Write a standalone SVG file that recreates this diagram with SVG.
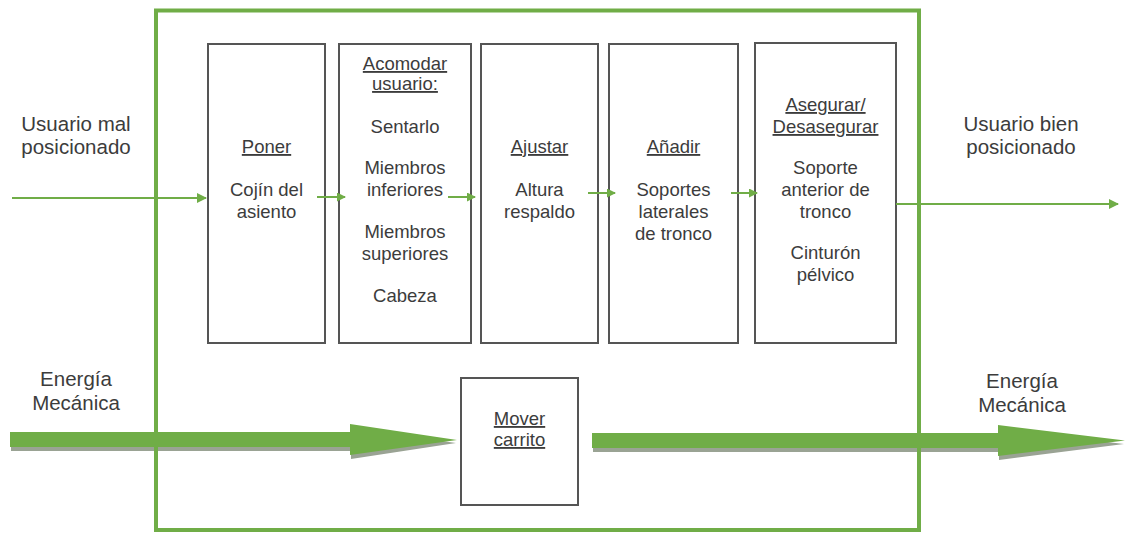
<svg xmlns="http://www.w3.org/2000/svg" width="1132" height="533" viewBox="0 0 1132 533">
<defs>
<style>
.box{fill:#ffffff;stroke:#555555;stroke-width:2}
.t{font-family:"Liberation Sans",Arial,sans-serif;font-size:18.5px;fill:#3c3c3c;text-anchor:middle}
.o{font-size:20.5px}
.u{text-decoration:underline}
.thin{stroke:#70AD47;stroke-width:2;fill:none}
.big{fill:#70AD47}
.shadow{fill:#9aa394}
.frame{fill:none;stroke:#70AD47;stroke-width:4}
</style>
<marker id="ah" markerWidth="10" markerHeight="10" refX="9" refY="5" orient="auto" markerUnits="userSpaceOnUse">
<path d="M0,0 L10,5 L0,10 Z" fill="#70AD47"/>
</marker>
<marker id="ahs" markerWidth="9" markerHeight="9" refX="8" refY="4.5" orient="auto" markerUnits="userSpaceOnUse">
<path d="M0,0 L9,4.5 L0,9 Z" fill="#70AD47"/>
</marker>
</defs>
<rect width="1132" height="533" fill="#ffffff"/>

<g id="labels">
<text class="t o" x="76" y="131">Usuario mal</text>
<text class="t o" x="76" y="154">posicionado</text>
<text class="t o" x="1021" y="131">Usuario bien</text>
<text class="t o" x="1021" y="154">posicionado</text>
<text class="t o" x="76" y="386">Energía</text>
<text class="t o" x="76" y="410">Mecánica</text>
<text class="t o" x="1022" y="388">Energía</text>
<text class="t o" x="1022" y="412">Mecánica</text>
</g>

<g id="node-poner">
<rect class="box" x="208" y="44" width="117" height="299"/>
<text class="t u" x="266.5" y="153">Poner</text>
<text class="t" x="266.5" y="196">Cojín del</text>
<text class="t" x="266.5" y="218">asiento</text>
</g>

<g id="node-acomodar">
<rect class="box" x="339" y="44" width="132" height="299"/>
<text class="t u" x="405" y="70">Acomodar</text>
<text class="t u" x="405" y="90">usuario:</text>
<text class="t" x="405" y="133">Sentarlo</text>
<text class="t" x="405" y="174">Miembros</text>
<text class="t" x="405" y="196">inferiores</text>
<text class="t" x="405" y="238">Miembros</text>
<text class="t" x="405" y="260">superiores</text>
<text class="t" x="405" y="302">Cabeza</text>
</g>

<g id="node-ajustar">
<rect class="box" x="481" y="44" width="117" height="299"/>
<text class="t u" x="539.5" y="153">Ajustar</text>
<text class="t" x="539.5" y="196">Altura</text>
<text class="t" x="539.5" y="218">respaldo</text>
</g>

<g id="node-anadir">
<rect class="box" x="609" y="44" width="129" height="299"/>
<text class="t u" x="673.5" y="153">Añadir</text>
<text class="t" x="673.5" y="196">Soportes</text>
<text class="t" x="673.5" y="218">laterales</text>
<text class="t" x="673.5" y="240">de tronco</text>
</g>

<g id="node-asegurar">
<rect class="box" x="755" y="43" width="141" height="300"/>
<text class="t u" x="825.5" y="111">Asegurar/</text>
<text class="t u" x="825.5" y="133">Desasegurar</text>
<text class="t" x="825.5" y="174">Soporte</text>
<text class="t" x="825.5" y="196">anterior de</text>
<text class="t" x="825.5" y="218">tronco</text>
<text class="t" x="825.5" y="259">Cinturón</text>
<text class="t" x="825.5" y="281">pélvico</text>
</g>

<g id="node-mover">
<rect class="box" x="461" y="378" width="117" height="127"/>
<text class="t u" x="519.5" y="425">Mover</text>
<text class="t u" x="519.5" y="446">carrito</text>
</g>

<g id="connectors">
<line class="thin" x1="12" y1="198" x2="206" y2="198" marker-end="url(#ah)"/>
<line class="thin" x1="896" y1="204" x2="1118" y2="204" marker-end="url(#ah)"/>
<line class="thin" x1="317" y1="197" x2="345" y2="197" marker-end="url(#ahs)"/>
<line class="thin" x1="448" y1="197" x2="475" y2="197" marker-end="url(#ahs)"/>
<line class="thin" x1="588" y1="193" x2="615" y2="193" marker-end="url(#ahs)"/>
<line class="thin" x1="731" y1="193" x2="757" y2="193" marker-end="url(#ahs)"/>
<polygon class="shadow" points="11,436 351,436 351,428 456,443 351,459 351,451 11,451"/>
<polygon class="big" points="10,432 350,432 350,424 457,440 350,455 350,447 10,447"/>
<polygon class="shadow" points="593,437 999,437 999,429 1124,444 999,460 999,452 593,452"/>
<polygon class="big" points="592,433 998,433 998,425 1125,440.5 998,456 998,448 592,448"/>
</g>

<g id="system-boundary">
<rect class="frame" x="156" y="10.5" width="763" height="519.5"/>
</g>
</svg>
